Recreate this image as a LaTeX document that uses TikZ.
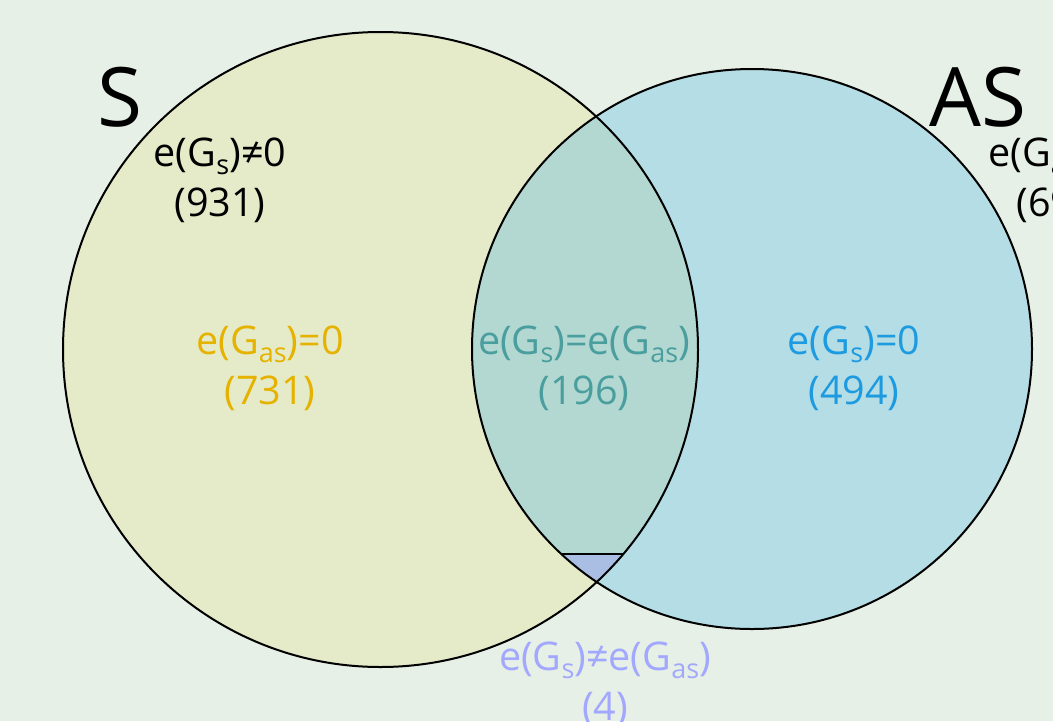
\documentclass[tikz,border=0pt]{standalone}
\usepackage{fontspec}
\setmainfont{Open Sans}
\definecolor{bg}{HTML}{E6F0E6}
\definecolor{leftfill}{HTML}{E5EBC9}
\definecolor{rightfill}{HTML}{B5DDE5}
\definecolor{midfill}{HTML}{B3D8D2}
\definecolor{lavfill}{HTML}{AABEE3}
\definecolor{ytext}{HTML}{E6B200}
\definecolor{ttext}{HTML}{4A9E9E}
\definecolor{btext}{HTML}{1E9BE0}
\definecolor{ltext}{HTML}{A3A8FF}
\newcommand\sbs[1]{\raisebox{-0.2em}{\fontsize{27}{27}\selectfont #1}}
\begin{document}
\begin{tikzpicture}[x=1pt,y=-1pt,
  lbl/.style={align=center,font=\fontsize{39.5}{50}\selectfont,inner sep=0pt},
  setname/.style={font=\fontsize{82}{90}\selectfont,inner sep=0pt},
  rim/.style={draw=black,line width=2pt}]
\clip (0,0) rectangle (1053,721);
\fill[bg] (0,0) rectangle (1053,721);
\coordinate (cS) at (380.5,349.5);
\coordinate (cA) at (752,349);
% fills
\fill[leftfill] (cS) circle[radius=317.5];
\fill[rightfill] (cA) circle[radius=280];
\begin{scope}
  \clip (cS) circle[radius=317.5];
  \clip (cA) circle[radius=280];
  \fill[midfill] (0,0) rectangle (1053,721);
  \fill[lavfill] (0,554) rectangle (1053,721);
  \draw[line width=1.3pt] (0,554) -- (1053,554);
\end{scope}
% outlines
\draw[rim] (cS) circle[radius=317.5];
\draw[rim] (cA) circle[radius=280];
% labels
\node[setname] (nS) at (120,97) {S};
\node[setname] (nAS) at (978,97) {AS};
\node[lbl] (l931) at (220,180) {e(G\sbs{s})≠0\\(931)};
\node[lbl] (l69) at (1062,180) {e(G\sbs{as})≠0\\(690)};
\node[lbl,text=ytext] (l731) at (270,368) {e(G\sbs{as})=0\\(731)};
\node[lbl,text=ttext] (l196) at (584,368) {e(G\sbs{s})=e(G\sbs{as})\\(196)};
\node[lbl,text=btext] (l494) at (854,368) {e(G\sbs{s})=0\\(494)};
\node[lbl,text=ltext] (l4) at (605,684) {e(G\sbs{s})≠e(G\sbs{as})\\(4)};
\end{tikzpicture}
\end{document}
